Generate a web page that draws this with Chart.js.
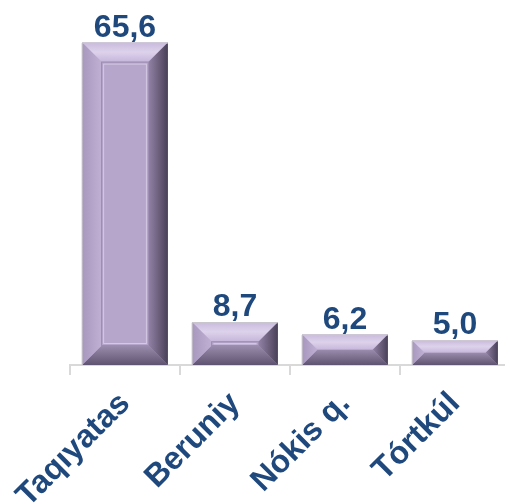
<!DOCTYPE html>
<html>
<head>
<meta charset="utf-8">
<script src="https://cdn.jsdelivr.net/npm/chart.js@4"></script>
<style>
  html, body { margin: 0; padding: 0; background: #fff; overflow: hidden; }
  #wrap { width: 520px; height: 504px; position: relative; }
</style>
</head>
<body>
<div id="wrap"><canvas id="barChart"></canvas></div>
<script>
const categories = ['Taqıyatas', 'Beruniy', 'Nókis q.', 'Tórtkúl'];
const values = [65.6, 8.7, 6.2, 5.0];

const navy = '#1F497D';
const face = '#B6A6CB';

function fmt(v) {
  return v.toFixed(1).replace('.', ',');
}

// bevel look on each bar, drawn from the bar elements' own geometry
const bevelPlugin = {
  id: 'bevel',
  afterDatasetsDraw(chart) {
    const ctx = chart.ctx;
    const meta = chart.getDatasetMeta(0);
    meta.data.forEach(function (bar) {
      const L = bar.x - bar.width / 2, R = bar.x + bar.width / 2;
      const T = bar.y, B = bar.base;
      const h = B - T;
      const b = Math.min(19, h / 2, bar.width / 2);

      function poly(pts, fill) {
        ctx.beginPath();
        ctx.moveTo(pts[0][0], pts[0][1]);
        for (let i = 1; i < pts.length; i++) ctx.lineTo(pts[i][0], pts[i][1]);
        ctx.closePath();
        ctx.fillStyle = fill;
        ctx.fill();
      }
      ctx.save();
      // top
      let g = ctx.createLinearGradient(0, T, 0, T + b);
      g.addColorStop(0, '#C9BBDC');
      g.addColorStop(0.5, '#DDD2EC');
      g.addColorStop(1, '#C6B7DA');
      poly([[L, T], [R, T], [R - b, T + b], [L + b, T + b]], g);
      // bottom
      g = ctx.createLinearGradient(0, B - b, 0, B);
      g.addColorStop(0, '#9A8CAC');
      g.addColorStop(1, '#5E5370');
      poly([[L, B], [R, B], [R - b, B - b], [L + b, B - b]], g);
      // left
      g = ctx.createLinearGradient(L, 0, L + b, 0);
      g.addColorStop(0, '#A897BE');
      g.addColorStop(1, '#BFB0D3');
      poly([[L, T], [L + b, T + b], [L + b, B - b], [L, B]], g);
      // right
      g = ctx.createLinearGradient(R - b, 0, R, 0);
      g.addColorStop(0, '#9081A4');
      g.addColorStop(1, '#4A4058');
      poly([[R, T], [R - b, T + b], [R - b, B - b], [R, B]], g);
      // inner outline
      if (h - 2 * b > 1) {
        ctx.strokeStyle = '#9C8CB2';
        ctx.lineWidth = 1;
        ctx.strokeRect(L + b + 0.5, T + b + 0.5, R - L - 2 * b - 1, h - 2 * b - 1);
        ctx.strokeStyle = '#D4C8E4';
        ctx.strokeRect(L + b + 2.5, T + b + 2.5, Math.max(R - L - 2 * b - 5, 0), Math.max(h - 2 * b - 5, 0));
      }
      // outer edge line
      ctx.strokeStyle = '#C8C8C8';
      ctx.lineWidth = 1;
      ctx.beginPath();
      ctx.moveTo(L, B);
      ctx.lineTo(L, T + 0.5);
      ctx.lineTo(R, T + 0.5);
      ctx.stroke();
      ctx.restore();
    });

    // value labels
    ctx.save();
    ctx.font = 'bold 32px Arial';
    ctx.fillStyle = navy;
    ctx.textAlign = 'center';
    ctx.textBaseline = 'alphabetic';
    meta.data.forEach(function (bar, i) {
      ctx.fillText(fmt(values[i]), bar.x, bar.y - 6);
    });
    ctx.restore();
  }
};

const barCtx = document.getElementById('barChart').getContext('2d');
const barChart = new Chart(barCtx, {
  type: 'bar',
  data: {
    labels: categories,
    datasets: [{
      data: values,
      backgroundColor: face,
      borderWidth: 0,
      categoryPercentage: 0.78,
      barPercentage: 1.0
    }]
  },
  options: {
    responsive: true,
    maintainAspectRatio: false,
    animation: false,
    layout: { padding: { left: 70, right: 10, top: 21, bottom: 0 } },
    plugins: {
      legend: { display: false },
      tooltip: { enabled: false }
    },
    scales: {
      y: { display: false, min: 0, max: 70 },
      x: {
        afterFit: function (scale) { scale.height = 139; },
        grid: {
          display: true,
          drawOnChartArea: false,
          drawTicks: true,
          tickLength: 10,
          color: '#D9D9D9',
          lineWidth: 2
        },
        border: { display: true, color: '#D9D9D9', width: 2 },
        ticks: {
          color: navy,
          font: { family: 'Arial', size: 32, weight: 'bold' },
          maxRotation: 45,
          minRotation: 45,
          autoSkip: false,
          padding: 10
        }
      }
    }
  },
  plugins: [bevelPlugin]
});
</script>
</body>
</html>
